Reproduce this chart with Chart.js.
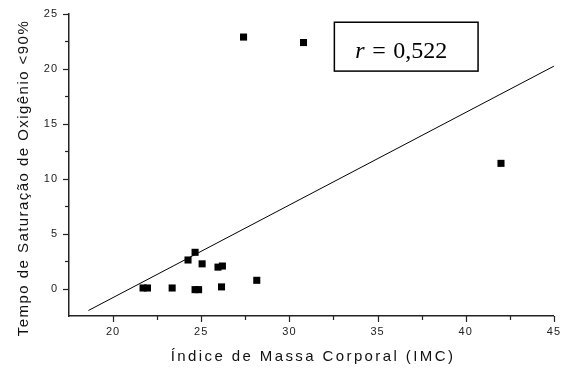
<!DOCTYPE html>
<html>
<head>
<meta charset="utf-8">
<script src="https://cdn.jsdelivr.net/npm/chart.js@4"></script>
<style>
  html, body { margin: 0; padding: 0; background: #fff; }
  #wrap { width: 563px; height: 368px; }
</style>
</head>
<body>
<div id="wrap"><canvas id="chart"></canvas></div>
<script>
// IMC vs tempo de saturação
var imc = [27.4, 30.8, 42.0, 24.65, 24.25, 25.05, 25.95, 26.2, 28.15, 21.7, 21.95, 23.35, 24.65, 24.85, 26.15];
var tempo = [22.9, 22.4, 11.4, 3.3, 2.6, 2.25, 1.95, 2.05, 0.75, 0.05, 0.05, 0.05, -0.1, -0.1, 0.15];

// linha de regressão (pontos extremos)
var fitX = [18.6, 45];
var fitY = [-2.0, 20.25];

var xTicks = [17.5, 20, 22.5, 25, 27.5, 30, 32.5, 35, 37.5, 40, 42.5, 45];
var yTicks = [-2.5, 0, 2.5, 5, 7.5, 10, 12.5, 15, 17.5, 20, 22.5, 25];

var xTitle = "Índice de Massa Corporal (IMC)";
var yTitle = "Tempo de Saturação de Oxigênio <90%";
var rText = "0,522";

// tick marks (major longer than minor), axis titles and the r box
var extras = {
  id: "extras",
  beforeDraw: function (chart) {
    chart.ctx.letterSpacing = "1px";
  },
  afterDraw: function (chart) {
    var ctx = chart.ctx;
    var xs = chart.scales.x, ys = chart.scales.y;
    var area = chart.chartArea;
    ctx.save();
    ctx.strokeStyle = "#222";
    ctx.lineWidth = 1.2;
    xTicks.forEach(function (v) {
      if (v <= xs.min) return;
      var px = Math.round(xs.getPixelForValue(v)) + 0.5;
      var len = (v % 5 === 0) ? 6 : 4;
      ctx.beginPath();
      ctx.moveTo(px, area.bottom);
      ctx.lineTo(px, area.bottom + len);
      ctx.stroke();
    });
    yTicks.forEach(function (v) {
      if (v <= ys.min) return;
      var py = Math.round(ys.getPixelForValue(v)) + 0.5;
      var len = (v % 5 === 0) ? 6 : 4;
      ctx.beginPath();
      ctx.moveTo(area.left, py);
      ctx.lineTo(area.left - len, py);
      ctx.stroke();
    });

    // títulos dos eixos
    ctx.fillStyle = "#111";
    ctx.font = "15px 'Liberation Sans', Arial";
    ctx.textAlign = "center";
    ctx.textBaseline = "alphabetic";
    ctx.letterSpacing = "2.4px";
    ctx.fillText(xTitle, 313, 361);
    ctx.letterSpacing = "1.45px";
    ctx.save();
    ctx.translate(28, 178);
    ctx.rotate(-Math.PI / 2);
    ctx.fillText(yTitle, 0, 0);
    ctx.restore();

    // caixa r = 0,522
    var bx0 = xs.getPixelForValue(32.55), bx1 = xs.getPixelForValue(40.7);
    var by0 = ys.getPixelForValue(24.25), by1 = ys.getPixelForValue(19.8);
    ctx.letterSpacing = "0px";
    ctx.textAlign = "left";
    ctx.fillStyle = "#fff";
    ctx.fillRect(bx0, by0, bx1 - bx0, by1 - by0);
    ctx.strokeStyle = "#000";
    ctx.lineWidth = 1.5;
    ctx.strokeRect(bx0, by0, bx1 - bx0, by1 - by0);
    ctx.fillStyle = "#000";
    var ty = (by0 + by1) / 2 + 11.5;
    ctx.font = "italic 24px 'Liberation Serif'";
    ctx.fillText("r", bx0 + 21, ty);
    ctx.font = "24px 'Liberation Serif'";
    ctx.fillText("=", bx0 + 38, ty);
    ctx.fillText(rText, bx0 + 59, ty);
    ctx.restore();
  }
};

var ctx = document.getElementById("chart").getContext("2d");
var points = imc.map(function (v, i) { return { x: v, y: tempo[i] }; });
var fitLine = fitX.map(function (v, i) { return { x: v, y: fitY[i] }; });

new Chart(ctx, {
  type: "scatter",
  data: {
    datasets: [
      {
        label: "dados",
        data: points,
        pointStyle: "rect",
        pointRadius: 5,
        pointHoverRadius: 5,
        backgroundColor: "#000",
        borderColor: "#000",
        borderWidth: 0
      },
      {
        label: "ajuste",
        data: fitLine,
        showLine: true,
        pointRadius: 0,
        borderColor: "#000",
        borderWidth: 1,
        fill: false
      }
    ]
  },
  options: {
    responsive: true,
    maintainAspectRatio: false,
    animation: false,
    layout: { padding: { top: 14, right: 8, left: 0, bottom: 0 } },
    plugins: {
      legend: { display: false },
      tooltip: { enabled: false }
    },
    scales: {
      x: {
        type: "linear",
        min: 17.5,
        max: 45,
        afterFit: function (s) { s.height = 52; },
        afterBuildTicks: function (s) { s.ticks = xTicks.map(function (v) { return { value: v }; }); },
        ticks: {
          autoSkip: false,
          maxRotation: 0,
          padding: 3,
          color: "#222",
          font: { family: "'Liberation Sans', Arial", size: 11 },
          callback: function (v) { return (v % 5 === 0) ? String(v) : ""; }
        },
        grid: { display: true, drawOnChartArea: false, drawTicks: true, tickLength: 6, color: "rgba(0,0,0,0)" },
        border: { display: true, color: "#222", width: 1.5 },
        title: { display: false }
      },
      y: {
        type: "linear",
        min: -2.5,
        max: 25,
        afterFit: function (s) { s.width = 69; },
        afterBuildTicks: function (s) { s.ticks = yTicks.map(function (v) { return { value: v }; }); },
        ticks: {
          autoSkip: false,
          padding: 5,
          color: "#222",
          font: { family: "'Liberation Sans', Arial", size: 11 },
          callback: function (v) { return (v % 5 === 0) ? String(v) : ""; }
        },
        grid: { display: true, drawOnChartArea: false, drawTicks: true, tickLength: 6, color: "rgba(0,0,0,0)" },
        border: { display: true, color: "#222", width: 1.5 },
        title: { display: false }
      }
    }
  },
  plugins: [extras]
});
</script>
</body>
</html>
